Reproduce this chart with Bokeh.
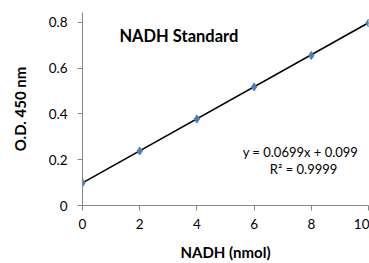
from bokeh.plotting import figure
from bokeh.models import Range1d, Label, FixedTicker
from bokeh.embed import file_html
from bokeh.resources import INLINE

nadh = [0, 2, 4, 6, 8, 10]
od = [0.099, 0.238, 0.378, 0.518, 0.655, 0.797]
slope = 0.0699
intercept = 0.099
x_ticks = [0, 2, 4, 6, 8, 10]
y_ticks = [0, 0.2, 0.4, 0.6, 0.8]

FONT = "Lato"

p = figure(width=369, height=263, output_backend="svg", toolbar_location=None,
           x_range=Range1d(0, 10), y_range=Range1d(0, 0.843),
           min_border_left=82, min_border_right=1, min_border_top=12, min_border_bottom=57)
p.outline_line_color = None
p.xgrid.visible = False
p.ygrid.visible = False

fit_x = [nadh[0], nadh[-1]]
fit_y = [slope * v + intercept for v in fit_x]
p.line(fit_x, fit_y, line_color="black", line_width=1.6)
p.scatter(nadh, od, marker="diamond", size=8, fill_color="#4A7EBB", line_color="#4A7EBB")

for ax in (p.xaxis[0], p.yaxis[0]):
    ax.axis_line_color = "#868686"
    ax.major_tick_line_color = "#868686"
    ax.major_tick_out = 5
    ax.major_tick_in = 0
    ax.minor_tick_line_color = None
    ax.major_label_text_font = FONT
    ax.major_label_text_font_size = "13.5px"
    ax.major_label_text_color = "black"
    ax.axis_label_text_font = FONT
    ax.axis_label_text_font_size = "15px"
    ax.axis_label_text_font_style = "bold"
    ax.axis_label_text_color = "black"

p.xaxis.ticker = FixedTicker(ticks=x_ticks)
p.yaxis.ticker = FixedTicker(ticks=y_ticks)
p.xaxis.major_label_overrides = {0: "0", 2: "2", 4: "4", 6: "6", 8: "8", 10: "10"}
p.yaxis.major_label_overrides = {0: "0", 0.2: "0.2", 0.4: "0.4", 0.6: "0.6", 0.8: "0.8"}
p.xaxis.axis_label = "NADH (nmol)"
p.yaxis.axis_label = "O.D. 450 nm"
p.xaxis.major_label_standoff = 8
p.xaxis.axis_label_standoff = 11
p.yaxis.major_label_standoff = 10
p.yaxis.axis_label_standoff = 17

p.add_layout(Label(x=1.29, y=0.739, text="NADH Standard", text_font=FONT,
                   text_font_size="16.5px", text_font_style="bold", text_baseline="middle",
                   text_color="black"))
p.add_layout(Label(x=7.62, y=0.235, text="y = 0.0699x + 0.099", text_font=FONT,
                   text_font_size="13px", text_align="center", text_baseline="middle",
                   text_color="black"))
p.add_layout(Label(x=7.73, y=0.161, text="R² = 0.9999", text_font=FONT,
                   text_font_size="13px", text_align="center", text_baseline="middle",
                   text_color="black"))

open("out.html", "w").write(file_html(p, INLINE))
